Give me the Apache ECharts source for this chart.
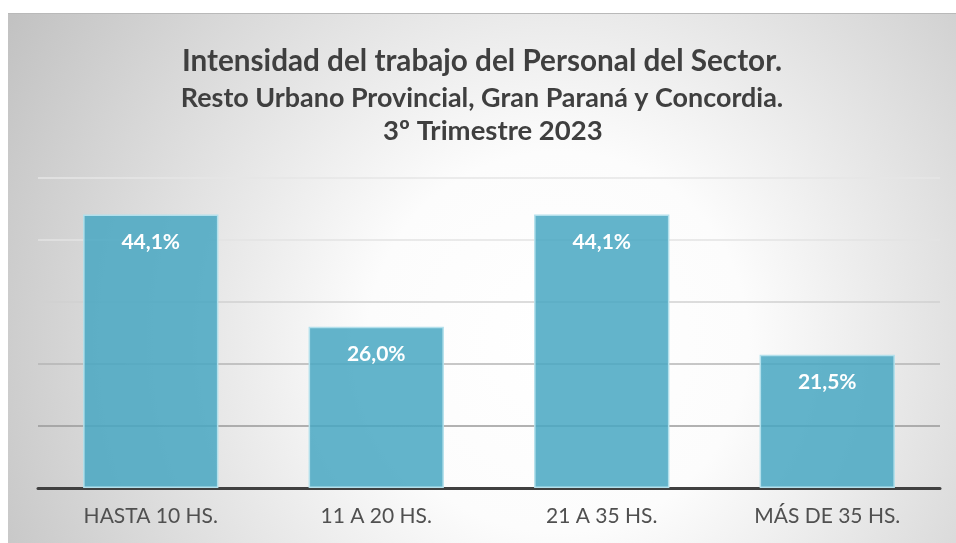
<!DOCTYPE html>
<html>
<head>
<meta charset="utf-8">
<script src="https://cdn.jsdelivr.net/npm/echarts@6/dist/echarts.min.js"></script>
<style>
html,body{margin:0;padding:0;background:#fff;width:956px;height:543px;overflow:hidden;}
#chart{position:absolute;left:8px;top:13px;width:948px;height:530px;border-top:1px solid #b9b9b9;box-sizing:border-box;}
</style>
</head>
<body>
<div id="chart"></div>
<script>
const titleLines = [
  "Intensidad del trabajo del Personal del Sector.",
  "Resto Urbano Provincial, Gran Paraná y Concordia.",
  "3º Trimestre 2023"
];
const categories = ["HASTA 10 HS.", "11 A 20 HS.", "21 A 35 HS.", "MÁS DE 35 HS."];
const values = [44.1, 26.0, 44.1, 21.5];
const yMin = 0, yMax = 50, yStep = 10;
const gridColors = ["#999999", "#999999", "#b5b5b5", "#d0d0d0", "#e3e3e3", "#e6e6e6"];

const FONT = "Lato, 'Open Sans', sans-serif";
const chart = echarts.init(document.getElementById('chart'));
chart.setOption({
  backgroundColor: new echarts.graphic.RadialGradient(0.58, 0.62, 1.2, [
    {offset: 0, color: '#ffffff'},
    {offset: 0.3, color: '#fcfcfc'},
    {offset: 1, color: '#c2c2c2'}
  ]),
  animation: false,
  title: [
    {text: titleLines[0], left: 'center', top: 27, textStyle: {fontFamily: FONT, fontWeight: 'bold', fontSize: 29.7, color: '#3f3f3f'}},
    {text: titleLines[1], left: 'center', top: 66, textStyle: {fontFamily: FONT, fontWeight: 'bold', fontSize: 26.9, color: '#3f3f3f'}},
    {text: titleLines[2], left: 370, top: 98, textStyle: {fontFamily: FONT, fontWeight: 'bold', fontSize: 27.5, color: '#3f3f3f'}}
  ],
  grid: {left: 30, right: 16, top: 164, bottom: 55, containLabel: false},
  xAxis: {
    type: 'category',
    data: categories,
    axisLine: {lineStyle: {color: '#404040', width: 3}},
    axisTick: {show: false},
    axisLabel: {fontFamily: FONT, fontSize: 21, color: '#505050', margin: 18}
  },
  yAxis: {
    type: 'value',
    min: yMin, max: yMax, interval: yStep,
    axisLabel: {show: false},
    axisLine: {show: false},
    axisTick: {show: false},
    splitLine: {lineStyle: {color: gridColors, width: 1.5}}
  },
  series: [{
    type: 'bar',
    data: values,
    barWidth: '60%',
    itemStyle: {color: 'rgba(72,167,194,0.85)', borderColor: '#b3e0ec', borderWidth: 1.5},
    label: {
      show: true, position: 'insideTop', distance: 17,
      formatter: p => p.value.toFixed(1).replace('.', ',') + '%',
      fontFamily: FONT, fontWeight: 'bold', fontSize: 21, color: '#ffffff'
    }
  }]
});
</script>
</body>
</html>
